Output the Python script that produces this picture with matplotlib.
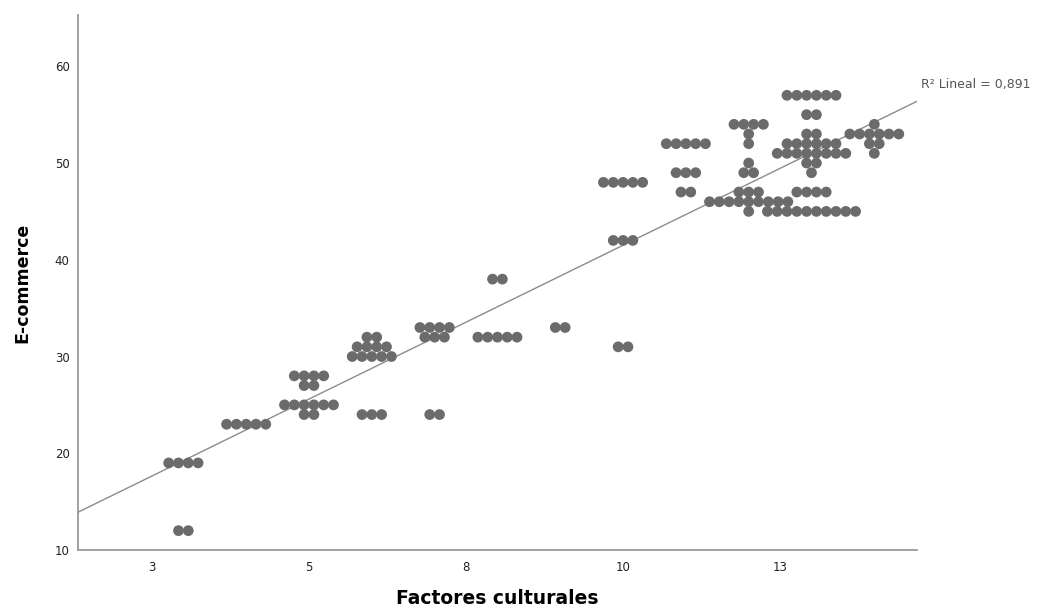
import matplotlib
matplotlib.use("Agg")
import matplotlib.pyplot as plt
import numpy as np

plt.rcParams["font.family"] = ["DejaVu Sans"]

# clusters of identical cases: factor score, e-commerce score, number of cases
x_vals = [3, 3, 4, 5, 5, 5, 5, 6, 6, 6, 6, 7, 7, 7, 8, 8, 9, 10, 10, 10,
          11, 11, 11,
          12, 12, 12, 12, 12, 12, 12, 12,
          13, 13, 13, 13, 13, 13, 13, 13, 13,
          14, 14, 14, 14]
y_vals = [12, 19, 23, 28, 27, 25, 24, 32, 31, 30, 24, 33, 32, 24, 38, 32, 33, 48, 42, 31,
          52, 49, 47,
          54, 53, 52, 50, 49, 47, 46, 45,
          57, 55, 53, 52, 51, 50, 49, 47, 45,
          54, 53, 52, 51]
counts = [2, 4, 5, 4, 2, 6, 2, 2, 4, 5, 3, 4, 3, 2, 2, 5, 2, 5, 3, 2,
          5, 3, 2,
          4, 1, 1, 1, 2, 3, 9, 1,
          6, 2, 2, 6, 8, 2, 1, 4, 10,
          1, 6, 2, 1]

# fit line
fit_intercept = 9.7
fit_slope = 3.18
r2_label = "R² Lineal = 0,891"

x_ticks = [2.5, 5.0, 7.5, 10.0, 12.5]
x_tick_labels = ["3", "5", "8", "10", "13"]
y_ticks = [10, 20, 30, 40, 50, 60]

fig = plt.figure(figsize=(10.37, 6.08), dpi=100)
ax = fig.add_axes([0.0752, 0.0954, 0.8091, 0.8799])

# stack equal cases side by side, like the SPSS dot display
pitch = 0.156
px, py = [], []
for x, y, n in zip(x_vals, y_vals, counts):
    offs = (np.arange(n) - (n - 1) / 2) * pitch
    px.extend(x + offs)
    py.extend([y] * n)
ax.scatter(px, py, s=60, color="#6b6b6b", edgecolors="none", zorder=3)

xlim = (1.322, 14.68)
ax.set_xlim(*xlim)
ax.set_ylim(10, 65.3)
line_x = np.array(xlim)
ax.plot(line_x, fit_intercept + fit_slope * line_x, color="#8c8c8c", lw=1.0, zorder=2)
ax.text(14.75, 58.1, r2_label, fontsize=9, color="#555555", ha="left", va="center",
        clip_on=False)

ax.set_xticks(x_ticks)
ax.set_xticklabels(x_tick_labels)
ax.set_yticks(y_ticks)
ax.tick_params(length=0, labelsize=8.5, colors="#222222")
ax.tick_params(axis="x", pad=8)
ax.tick_params(axis="y", pad=6)

for side in ("top", "right"):
    ax.spines[side].set_visible(False)
for side in ("left", "bottom"):
    ax.spines[side].set_color("#999999")
    ax.spines[side].set_linewidth(1.3)

ax.set_xlabel("Factores culturales", fontsize=13.5, fontweight="bold", labelpad=11)
ax.set_ylabel("E-commerce", fontsize=12.5, fontweight="bold", labelpad=17)

fig.savefig("out.png", dpi=100)
